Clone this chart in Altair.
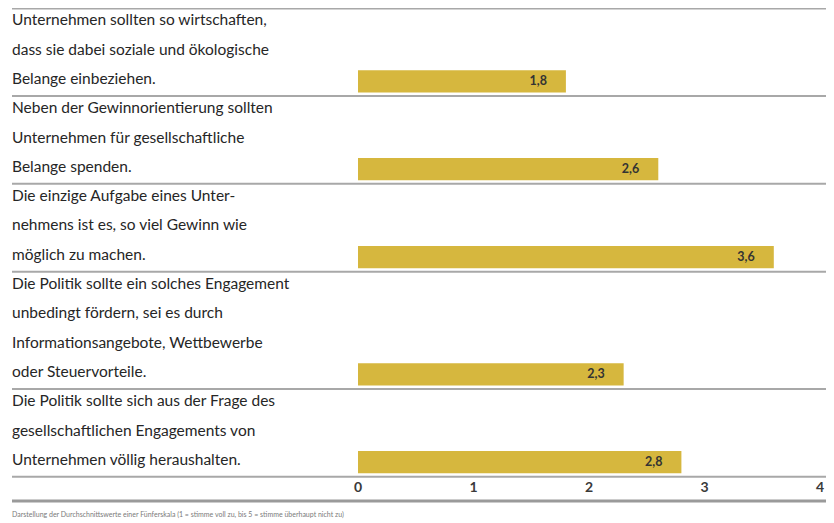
import altair as alt
import pandas as pd

statements = [
    ["Unternehmen sollten so wirtschaften,",
     "dass sie dabei soziale und ökologische",
     "Belange einbeziehen."],
    ["Neben der Gewinnorientierung sollten",
     "Unternehmen für gesellschaftliche",
     "Belange spenden."],
    ["Die einzige Aufgabe eines Unter-",
     "nehmens ist es, so viel Gewinn wie",
     "möglich zu machen."],
    ["Die Politik sollte ein solches Engagement",
     "unbedingt fördern, sei es durch",
     "Informationsangebote, Wettbewerbe",
     "oder Steuervorteile."],
    ["Die Politik sollte sich aus der Frage des",
     "gesellschaftlichen Engagements von",
     "Unternehmen völlig heraushalten."],
]
values = [1.8, 2.6, 3.6, 2.3, 2.8]
value_labels = ["1,8", "2,6", "3,6", "2,3", "2,8"]
ticks = [0, 1, 2, 3, 4]
footer = "Darstellung der Durchschnittswerte einer Fünferskala (1 = stimme voll zu, bis 5 = stimme überhaupt nicht zu)"

FONT = "Lato"
BAR_COLOR = "#d6b73e"
TEXT_COLOR = "#262626"
LINE_COLOR = "#a8a8a8"

# derived tables
line_rows, bar_rows, sep_rows = [], [], [{"y": 0.0, "w": 3}]
pos = 0
for lines, v, lab in zip(statements, values, value_labels):
    for i, t in enumerate(lines):
        line_rows.append({"text": t, "y": pos + i + 0.42})
    end = pos + len(lines)
    bar_rows.append({"v": v, "zero": 0, "y": end - 0.88, "y2": end - 0.12,
                     "ym": end - 0.5, "label": lab})
    sep_rows.append({"y": float(end), "w": 2})
    pos = end
total = pos

lines_df = pd.DataFrame(line_rows)
bars_df = pd.DataFrame(bar_rows)
sep_df = pd.DataFrame(sep_rows)
ticks_df = pd.DataFrame({"t": ticks, "lab": [str(t) for t in ticks], "y": total + 0.37})
bottom_df = pd.DataFrame({"y": [total + 0.82]})
footer_df = pd.DataFrame({"text": [footer], "y": [total + 1.3]})

W, H = 818, 514
PX = 115.5
LEFT = 350 / PX
xs = alt.Scale(domain=[-LEFT, W / PX - LEFT], nice=False, zero=False)
ys = alt.Scale(domain=[0, total + 1.54], reverse=True, nice=False, zero=False)

text_layer = alt.Chart(lines_df).mark_text(
    align="left", baseline="middle", font=FONT, fontSize=15.5, color=TEXT_COLOR
).encode(x=alt.value(4), y=alt.Y("y:Q", scale=ys, axis=None), text="text:N")

bars = alt.Chart(bars_df).mark_rect(color=BAR_COLOR).encode(
    x=alt.X("zero:Q", scale=xs, axis=None), x2="v:Q",
    y=alt.Y("y:Q", scale=ys, axis=None), y2="y2:Q")

bar_labels = alt.Chart(bars_df).mark_text(
    align="right", baseline="middle", font=FONT, fontSize=12.5, fontWeight="bold",
    color="#333333", dx=-19
).encode(x=alt.X("v:Q", scale=xs, axis=None), y=alt.Y("ym:Q", scale=ys, axis=None),
         text="label:N")

seps = alt.Chart(sep_df).mark_rule(color=LINE_COLOR).encode(
    x=alt.value(4), x2=alt.value(W),
    y=alt.Y("y:Q", scale=ys, axis=None),
    strokeWidth=alt.StrokeWidth("w:Q", scale=None, legend=None))

tick_labels = alt.Chart(ticks_df).mark_text(
    align="center", baseline="middle", font=FONT, fontSize=14, fontWeight="bold",
    color="#3a3a3a"
).encode(x=alt.X("t:Q", scale=xs, axis=None), y=alt.Y("y:Q", scale=ys, axis=None),
         text="lab:N")

bottom = alt.Chart(bottom_df).mark_rule(color="#9a9a9a", strokeWidth=3).encode(
    x=alt.value(4), x2=alt.value(W), y=alt.Y("y:Q", scale=ys, axis=None))

foot = alt.Chart(footer_df).mark_text(
    align="left", baseline="middle", font=FONT, fontSize=7, color="#7a7a7a"
).encode(x=alt.value(4), y=alt.Y("y:Q", scale=ys, axis=None), text="text:N")

chart = alt.layer(seps, bars, bar_labels, text_layer, tick_labels, bottom, foot).properties(
    width=W, height=H, padding=0, autosize=alt.AutoSizeParams(type="none")
).configure_view(stroke=None)

chart.save("out.html", embed_options={"renderer": "svg", "actions": False})
